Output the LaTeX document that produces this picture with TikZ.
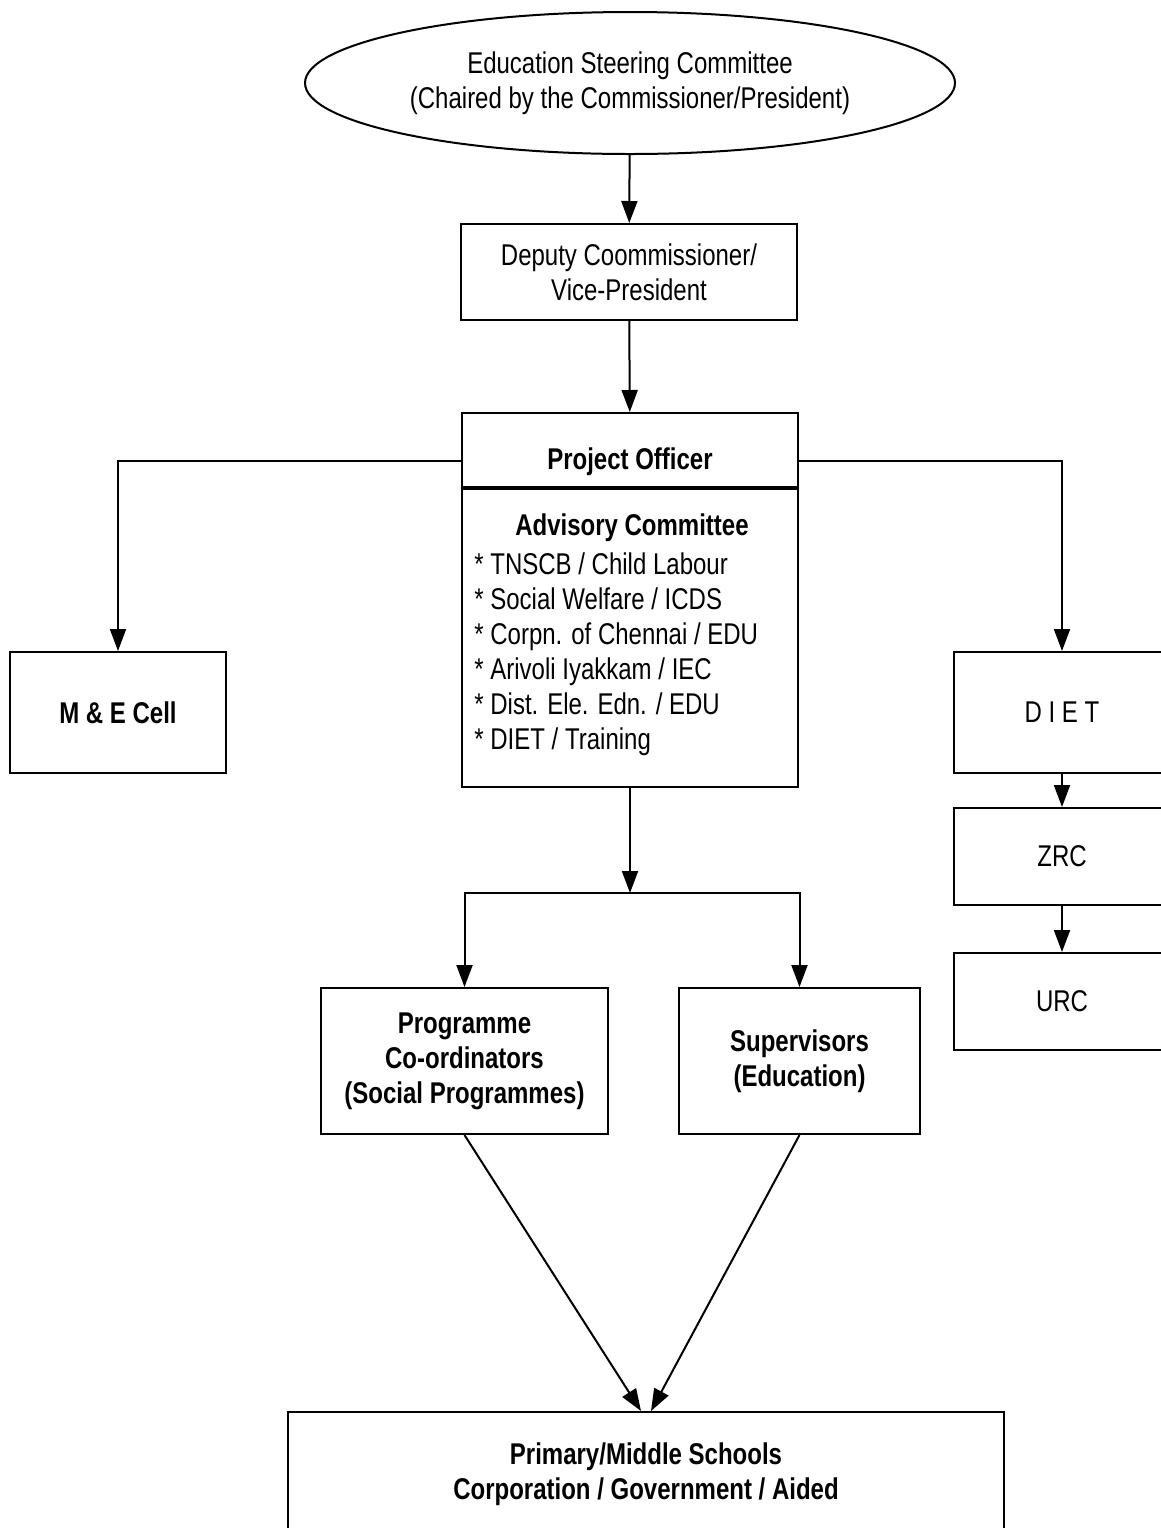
\documentclass[tikz,border=0pt]{standalone}
\usepackage{fontspec}
\setmainfont{Liberation Sans}[FakeStretch=0.8]
\usetikzlibrary{arrows.meta, positioning, shapes.geometric}
\newcommand\chartfont{\fontsize{15}{17.5}\selectfont}

\begin{document}
\begin{tikzpicture}[
    x=0.5pt, y=-0.5pt,
    font=\chartfont,
    box/.style={draw, line width=1pt, align=center, inner sep=0pt},
    boldbox/.style={box, font=\chartfont\bfseries},
    arrow/.style={-{Triangle[length=11pt, width=8pt]}, line width=1pt}
]
\path[clip, use as bounding box] (0,0) rectangle (1161,1528);
\fill[white] (0,0) rectangle (1161,1528);

\node[box, ellipse, minimum width=325pt, minimum height=71pt] (steering) at (630,83) {Education Steering Committee\\(Chaired by the Commissioner/President)};
\node[box, minimum width=168pt, minimum height=48pt] (deputy) at (629,272) {Deputy Coommissioner/\\Vice-President};
\node[boldbox, minimum width=168pt, minimum height=37pt, text height=19pt, text depth=0pt] (officer) at (630,450) {Project Officer};
\node[box, minimum width=168pt, minimum height=149pt, below=0pt of officer] (advisory) {};
\node[font=\chartfont\bfseries] (advhead) at (632,528) {Advisory Committee};
\foreach \member [count=\i] in {TNSCB / Child Labour, Social Welfare / ICDS, Corpn. of Chennai / EDU, Arivoli Iyakkam / IEC, Dist. Ele. Edn. / EDU, DIET / Training}
  \node[anchor=base west, inner sep=0pt] (adv\i) at (474,539+35*\i) {* \member};

\node[boldbox, minimum width=108pt, minimum height=60.5pt] (mecell) at (118,712.5) {M \& E Cell};
\node[box, minimum width=108pt, minimum height=60.5pt] (diet) at (1062,712.5) {D I E T};
\node[box, minimum width=108pt, minimum height=48.5pt] (zrc) at (1062,856.5) {ZRC};
\node[box, minimum width=108pt, minimum height=48.5pt] (urc) at (1062,1001.5) {URC};

\coordinate (split) at (630,893);
\node[boldbox, minimum width=143.5pt, minimum height=73pt] (programme) at (464.5,1061) {Programme\\Co-ordinators\\(Social Programmes)};
\node[boldbox, minimum width=120.5pt, minimum height=73pt] (supervisors) at (799.5,1061) {Supervisors\\(Education)};
\node[boldbox, minimum width=358pt, minimum height=62pt] (schools) at (646,1474) {Primary/Middle Schools\\Corporation / Government / Aided};

\draw[arrow] (steering) -- (deputy);
\draw[arrow] (deputy) -- (officer);
\draw[arrow] ([yshift=-5.5pt]officer.west) -| (mecell);
\draw[arrow] ([yshift=-5.5pt]officer.east) -| (diet);
\draw[arrow] (diet) -- (zrc);
\draw[arrow] (zrc) -- (urc);
\draw[arrow] (advisory) -- (split);
\draw[arrow] (split) -| (programme);
\draw[arrow] (split) -| (supervisors);
\draw[arrow] (programme.south) -- ([xshift=-2.5pt]schools.north);
\draw[arrow] (supervisors.south) -- ([xshift=2.5pt]schools.north);
\end{tikzpicture}
\end{document}
